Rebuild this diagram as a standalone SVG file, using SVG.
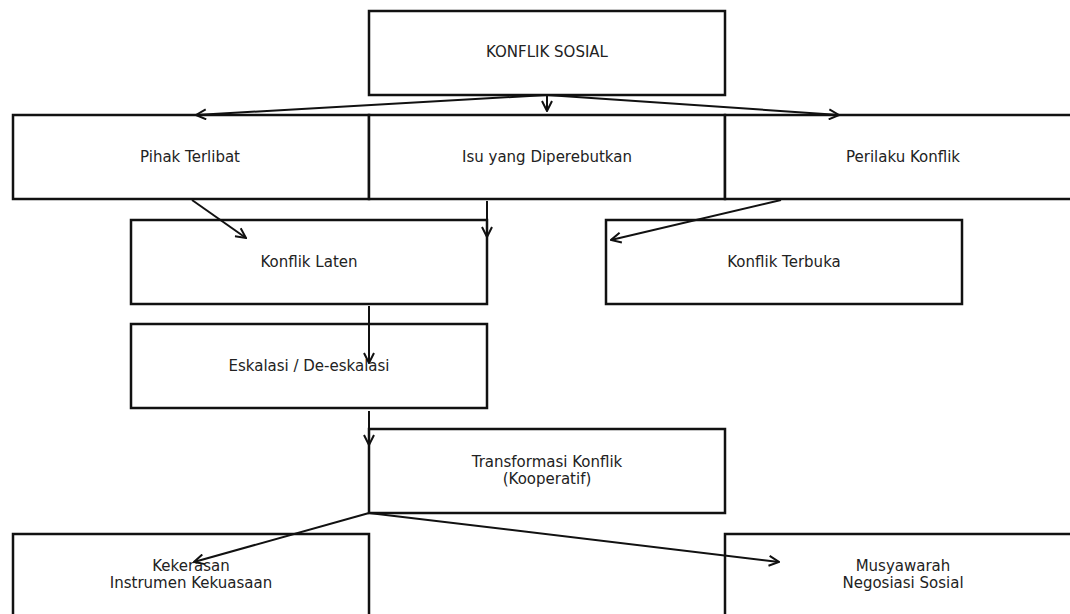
<svg xmlns="http://www.w3.org/2000/svg" width="1070" height="614" viewBox="0 0 1070 614">
<style>
.box{fill:#fff;stroke:#111;stroke-width:2.5}
.t{font-family:"DejaVu Sans",sans-serif;font-size:15px;fill:#222;text-anchor:middle}
.c{stroke:#111;stroke-width:2;fill:none;marker-end:url(#ah)}
</style>
<defs>
<marker id="ah" viewBox="0 0 12 12" refX="11" refY="6" markerWidth="12" markerHeight="12" markerUnits="userSpaceOnUse" orient="auto">
<path d="M1,1 L11,6 L1,11" fill="none" stroke="#111" stroke-width="2"/>
</marker>
</defs>
<rect width="1070" height="614" fill="#fff"/>
<g id="n-konflik-sosial"><rect class="box" x="369" y="11" width="356" height="84"/><text class="t" x="547" y="57">KONFLIK SOSIAL</text></g>
<g id="n-pihak"><rect class="box" x="13" y="115" width="356" height="84"/><text class="t" x="190" y="162">Pihak Terlibat</text></g>
<g id="n-isu"><rect class="box" x="369" y="115" width="356" height="84"/><text class="t" x="547" y="162">Isu yang Diperebutkan</text></g>
<g id="n-perilaku"><rect class="box" x="725" y="115" width="356" height="84"/><text class="t" x="903" y="162">Perilaku Konflik</text></g>
<g id="n-laten"><rect class="box" x="131" y="220" width="356" height="84"/><text class="t" x="309" y="267">Konflik Laten</text></g>
<g id="n-terbuka"><rect class="box" x="606" y="220" width="356" height="84"/><text class="t" x="784" y="267">Konflik Terbuka</text></g>
<g id="n-eskalasi"><rect class="box" x="131" y="324" width="356" height="84"/><text class="t" x="309" y="371">Eskalasi / De-eskalasi</text></g>
<g id="n-transformasi"><rect class="box" x="369" y="429" width="356" height="84"/><text class="t" x="547" y="467">Transformasi Konflik</text><text class="t" x="547" y="484">(Kooperatif)</text></g>
<g id="n-kekerasan"><rect class="box" x="13" y="534" width="356" height="84"/><text class="t" x="191" y="571">Kekerasan</text><text class="t" x="191" y="588">Instrumen Kekuasaan</text></g>
<g id="n-musyawarah"><rect class="box" x="725" y="534" width="356" height="84"/><text class="t" x="903" y="571">Musyawarah</text><text class="t" x="903" y="588">Negosiasi Sosial</text></g>
<g id="connectors">
<line class="c" x1="547" y1="95" x2="196" y2="115"/>
<line class="c" x1="547" y1="96" x2="547" y2="111"/>
<line class="c" x1="547" y1="95" x2="839" y2="115"/>
<line class="c" x1="192" y1="200" x2="246" y2="238"/>
<line class="c" x1="487" y1="201" x2="487" y2="237"/>
<line class="c" x1="781" y1="200" x2="611" y2="240"/>
<line class="c" x1="369" y1="306" x2="369" y2="363"/>
<line class="c" x1="369" y1="411" x2="369" y2="445"/>
<line class="c" x1="369" y1="513" x2="194" y2="562"/>
<line class="c" x1="369" y1="513" x2="779" y2="562"/>
</g>
</svg>
